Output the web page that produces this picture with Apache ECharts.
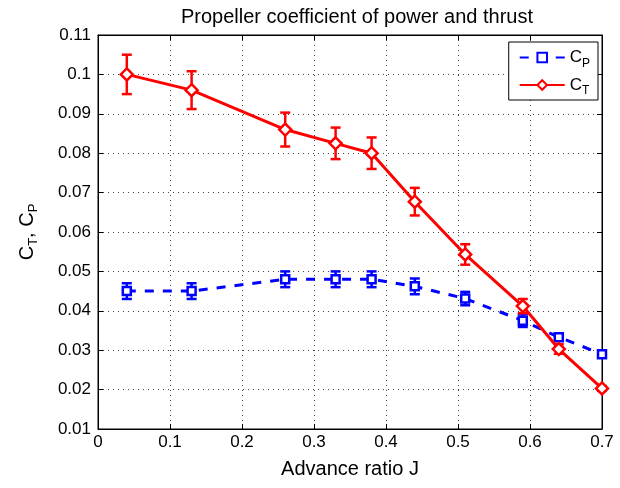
<!DOCTYPE html>
<html>
<head>
<meta charset="utf-8">
<script src="https://cdn.jsdelivr.net/npm/echarts@6/dist/echarts.min.js"></script>
<style>
  html, body { margin: 0; padding: 0; background: #fff; }
  #main { width: 620px; height: 488px; }
</style>
</head>
<body>
<div id="main"></div>
<script>
// advance ratio J
const advanceRatio = [0.04, 0.13, 0.26, 0.33, 0.38, 0.44, 0.51, 0.59, 0.64, 0.70];
// thrust coefficient and its error
const ctValues = [0.100, 0.096, 0.086, 0.0825, 0.080, 0.0677, 0.0543, 0.0412, 0.0303, 0.0203];
const ctErrors = [0.005, 0.0048, 0.0043, 0.004, 0.004, 0.0035, 0.0026, 0.0018, 0.0012, 0.0006];
// power coefficient and its error
const cpValues = [0.045, 0.045, 0.048, 0.048, 0.048, 0.0462, 0.0431, 0.0375, 0.0333, 0.0290];
const cpErrors = [0.002, 0.002, 0.002, 0.002, 0.002, 0.002, 0.0017, 0.0016, 0.0009, 0.0008];

const chart = echarts.init(document.getElementById('main'));
const font = 'Liberation Sans, Arial, sans-serif';

function errorBars(name, ys, errs, color) {
  return {
    type: 'custom',
    name: name,
    z: 1,
    silent: true,
    encode: { x: 0, y: [1, 2] },
    renderItem(params, api) {
      const x = api.value(0);
      const top = api.coord([x, api.value(2)]);
      const bot = api.coord([x, api.value(1)]);
      const hw = 5;
      const style = { stroke: color, lineWidth: 2.5 };
      return {
        type: 'group',
        children: [
          { type: 'line', shape: { x1: top[0], y1: top[1], x2: bot[0], y2: bot[1] }, style },
          { type: 'line', shape: { x1: top[0] - hw, y1: top[1], x2: top[0] + hw, y2: top[1] }, style },
          { type: 'line', shape: { x1: bot[0] - hw, y1: bot[1], x2: bot[0] + hw, y2: bot[1] }, style }
        ]
      };
    },
    data: advanceRatio.map((x, i) => [x, ys[i] - errs[i], ys[i] + errs[i]])
  };
}

const axisCommon = {
  axisLine: { show: true, onZero: false, lineStyle: { color: '#000', width: 1 } },
  axisTick: { show: true, inside: true, length: 5, lineStyle: { color: '#000' } },
};

const option = {
  backgroundColor: '#fff',
  animation: false,
  title: {
    text: 'Propeller coefficient of power and thrust',
    left: 352, top: 2, textAlign: 'center',
    textStyle: { fontFamily: font, fontWeight: 'normal', fontSize: 20, color: '#000' }
  },
  grid: { left: 98, right: 18, top: 35, bottom: 59, show: true, borderColor: '#000', borderWidth: 1 },
  legend: {
    data: ['CP', 'CT'],
    orient: 'vertical',
    right: 22, top: 42,
    padding: [5, 8, 3, 10],
    itemGap: 5,
    itemWidth: 45, itemHeight: 12,
    backgroundColor: '#fff',
    borderColor: '#000', borderWidth: 1, borderRadius: 0,
    formatter: n => 'C{s|' + n.slice(1) + '}',
    textStyle: {
      fontFamily: font, fontSize: 17, color: '#000', lineHeight: 21,
      rich: { s: { fontFamily: font, fontSize: 12, color: '#000', padding: [12, 0, 0, 0] } }
    }
  },
  xAxis: [{
    type: 'value', min: 0, max: 0.7, interval: 0.1,
    name: 'Advance ratio J', nameLocation: 'middle', nameGap: 30,
    nameTextStyle: { fontFamily: font, fontSize: 20, color: '#000' },
    axisLabel: { fontFamily: font, fontSize: 17, color: '#000', margin: 5,
      formatter: v => String(+v.toFixed(1)) },
    splitLine: { show: true, lineStyle: { color: '#444', type: [1, 4], width: 1 } },
    ...axisCommon
  }, {
    type: 'value', position: 'top', min: 0, max: 0.7, interval: 0.1,
    axisLabel: { show: false }, splitLine: { show: false },
    ...axisCommon
  }],
  yAxis: [{
    type: 'value', min: 0.01, max: 0.11, interval: 0.01,
    name: 'C{s|T}, C{s|P}', nameLocation: 'middle', nameGap: 58, nameRotate: 90,
    nameTextStyle: { fontFamily: font, fontSize: 20, color: '#000',
      rich: { s: { fontFamily: font, fontSize: 13, color: '#000', padding: [12, 0, 0, 0] } } },
    axisLabel: { fontFamily: font, fontSize: 17, color: '#000', margin: 7,
      formatter: v => String(+v.toFixed(2)) },
    splitLine: { show: true, lineStyle: { color: '#444', type: [1, 4], width: 1 } },
    ...axisCommon
  }, {
    type: 'value', position: 'right', min: 0.01, max: 0.11, interval: 0.01,
    axisLabel: { show: false }, splitLine: { show: false },
    ...axisCommon
  }],
  series: [
    errorBars('CP err', cpValues, cpErrors, '#0000ff'),
    errorBars('CT err', ctValues, ctErrors, '#ff0000'),
    {
      name: 'CP', type: 'line', z: 3,
      data: advanceRatio.map((x, i) => [x, cpValues[i]]),
      symbol: 'rect', symbolSize: 8,
      lineStyle: { color: '#0000ff', width: 3, type: [9, 9] },
      itemStyle: { color: '#fff', borderColor: '#0000ff', borderWidth: 2.5 }
    },
    {
      name: 'CT', type: 'line', z: 4,
      data: advanceRatio.map((x, i) => [x, ctValues[i]]),
      symbol: 'diamond', symbolSize: 12,
      lineStyle: { color: '#ff0000', width: 3 },
      itemStyle: { color: '#fff', borderColor: '#ff0000', borderWidth: 2.5 }
    }
  ]
};

chart.setOption(option);
</script>
</body>
</html>
